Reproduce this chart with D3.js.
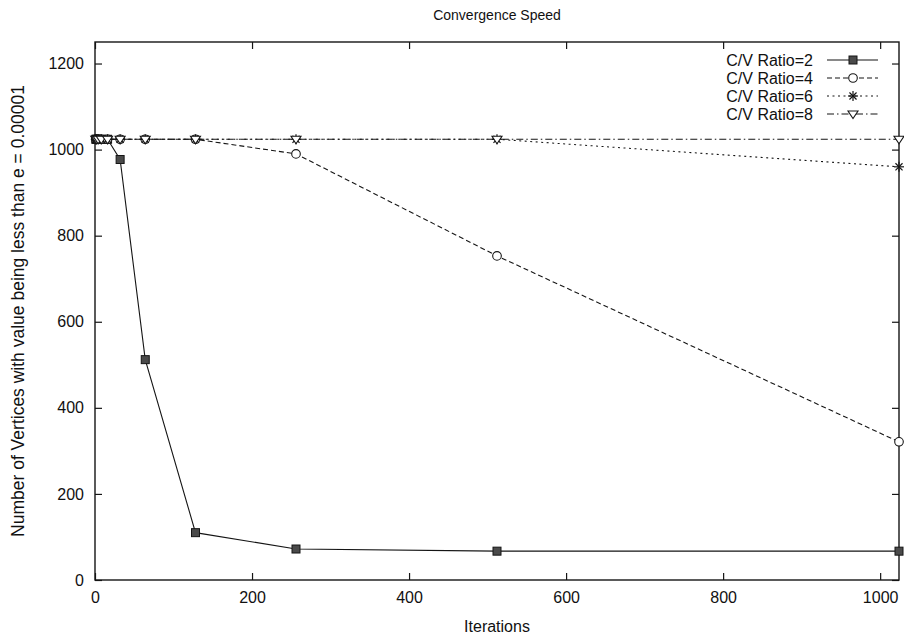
<!DOCTYPE html>
<html>
<head>
<meta charset="utf-8">
<script src="https://cdn.jsdelivr.net/npm/d3@7"></script>
<style>
  html, body { margin: 0; padding: 0; background: #fff; }
  svg { display: block; }
  text { font-family: "Liberation Sans", Arial, Helvetica, sans-serif; fill: #111; }
</style>
</head>
<body>
<svg id="chart" width="904" height="640"></svg>
<script>
// Iteration counts sampled (powers of two)
const iterations = [1, 2, 4, 8, 16, 32, 64, 128, 256, 512, 1024];

// Number of vertices whose value is below e for each C/V ratio
const ratio2 = [1024, 1024, 1024, 1024, 1024, 977, 512, 110, 72, 67, 67];
const ratio4 = [1024, 1024, 1024, 1024, 1024, 1024, 1024, 1024, 990, 753, 321];
const ratio6 = [1024, 1024, 1024, 1024, 1024, 1024, 1024, 1024, 1024, 1024, 960];
const ratio8 = [1024, 1024, 1024, 1024, 1024, 1024, 1024, 1024, 1024, 1024, 1024];

const seriesNames = ["C/V Ratio=2", "C/V Ratio=4", "C/V Ratio=6", "C/V Ratio=8"];
const xTicks = [0, 200, 400, 600, 800, 1000];
const yTicks = [0, 200, 400, 600, 800, 1000, 1200];

const titleText = "Convergence Speed";
const xLabel = "Iterations";
const yLabel = "Number of Vertices with value being less than e = 0.00001";

const series = [
  { name: seriesNames[0], values: ratio2, dash: null,        marker: "square" },
  { name: seriesNames[1], values: ratio4, dash: "5,3",       marker: "circle" },
  { name: seriesNames[2], values: ratio6, dash: "2,3.5",     marker: "star" },
  { name: seriesNames[3], values: ratio8, dash: "7,3,1.5,3", marker: "triangle" }
];

const svg = d3.select("#chart");
const plotLeft = 95, plotRight = 899, plotTop = 42, plotBottom = 580;

const x = d3.scaleLinear().domain([0, 1024]).range([plotLeft, plotRight]);
const y = d3.scaleLinear().domain([0, 1250]).range([plotBottom, plotTop]);

const ink = "#151515";
const fmt = d3.format("d");

// Axes with inward ticks, mirrored on the opposite sides
const tickLen = 7;
const gx = svg.append("g").attr("transform", `translate(0,${plotBottom})`)
  .call(d3.axisBottom(x).tickValues(xTicks).tickFormat(fmt).tickSizeInner(-tickLen).tickSizeOuter(0).tickPadding(12));
const gxTop = svg.append("g").attr("transform", `translate(0,${plotTop})`)
  .call(d3.axisTop(x).tickValues(xTicks).tickSizeInner(-tickLen).tickSizeOuter(0).tickFormat(""));
const gy = svg.append("g").attr("transform", `translate(${plotLeft},0)`)
  .call(d3.axisLeft(y).tickValues(yTicks).tickFormat(fmt).tickSizeInner(-tickLen).tickSizeOuter(0).tickPadding(11));
const gyRight = svg.append("g").attr("transform", `translate(${plotRight},0)`)
  .call(d3.axisRight(y).tickValues(yTicks).tickSizeInner(-tickLen).tickSizeOuter(0).tickFormat(""));

[gx, gxTop, gy, gyRight].forEach(g => {
  g.select(".domain").remove();
  g.selectAll("line").attr("stroke", ink).attr("stroke-width", 1.2);
  g.selectAll("text").attr("font-size", 16).attr("font-family", "Liberation Sans, Arial, sans-serif").attr("fill", ink);
});

// Plot border
svg.append("rect")
  .attr("x", plotLeft).attr("y", plotTop)
  .attr("width", plotRight - plotLeft).attr("height", plotBottom - plotTop)
  .attr("fill", "none").attr("stroke", ink).attr("stroke-width", 1.4);

// Title and axis labels
svg.append("text").attr("x", (plotLeft + plotRight) / 2).attr("y", 20)
  .attr("text-anchor", "middle").attr("font-size", 14).text(titleText);
svg.append("text").attr("x", (plotLeft + plotRight) / 2).attr("y", 632)
  .attr("text-anchor", "middle").attr("font-size", 16).text(xLabel);
svg.append("text")
  .attr("transform", `translate(24,${(plotTop + plotBottom) / 2}) rotate(-90)`)
  .attr("text-anchor", "middle").attr("font-size", 17.5).text(yLabel);

// Marker drawing
function drawMarker(g, kind, cx, cy) {
  if (kind === "square") {
    g.append("rect").attr("x", cx - 4).attr("y", cy - 4).attr("width", 8).attr("height", 8)
      .attr("fill", "#4a4a4a").attr("stroke", ink).attr("stroke-width", 1);
  } else if (kind === "circle") {
    g.append("circle").attr("cx", cx).attr("cy", cy).attr("r", 4.3)
      .attr("fill", "#fff").attr("stroke", ink).attr("stroke-width", 1.1);
  } else if (kind === "star") {
    const r = 5;
    for (let k = 0; k < 4; k++) {
      const a = k * Math.PI / 4;
      g.append("line")
        .attr("x1", cx - r * Math.cos(a)).attr("y1", cy - r * Math.sin(a))
        .attr("x2", cx + r * Math.cos(a)).attr("y2", cy + r * Math.sin(a))
        .attr("stroke", ink).attr("stroke-width", 1.2);
    }
  } else if (kind === "triangle") {
    const r = 5;
    g.append("path")
      .attr("d", `M${cx - r},${cy - r * 0.6}L${cx + r},${cy - r * 0.6}L${cx},${cy + r * 0.9}Z`)
      .attr("fill", "#fff").attr("stroke", ink).attr("stroke-width", 1.1);
  }
}

const line = d3.line().x(d => x(d[0])).y(d => y(d[1]));

series.forEach(s => {
  const pts = iterations.map((it, i) => [it, s.values[i]]);
  const g = svg.append("g");
  g.append("path").attr("d", line(pts))
    .attr("fill", "none").attr("stroke", ink).attr("stroke-width", 1.1)
    .attr("stroke-dasharray", s.dash);
  pts.forEach(p => drawMarker(g, s.marker, x(p[0]), y(p[1])));
});

// Legend
const legendRows = [60, 78, 96, 114];
series.forEach((s, i) => {
  const g = svg.append("g");
  const ly = legendRows[i];
  g.append("text").attr("x", 813).attr("y", ly).attr("dy", "0.35em")
    .attr("text-anchor", "end").attr("font-size", 16).text(s.name);
  g.append("line").attr("x1", 827).attr("x2", 878).attr("y1", ly).attr("y2", ly)
    .attr("stroke", ink).attr("stroke-width", 1.1).attr("stroke-dasharray", s.dash);
  drawMarker(g, s.marker, 853, ly);
});
</script>
</body>
</html>
